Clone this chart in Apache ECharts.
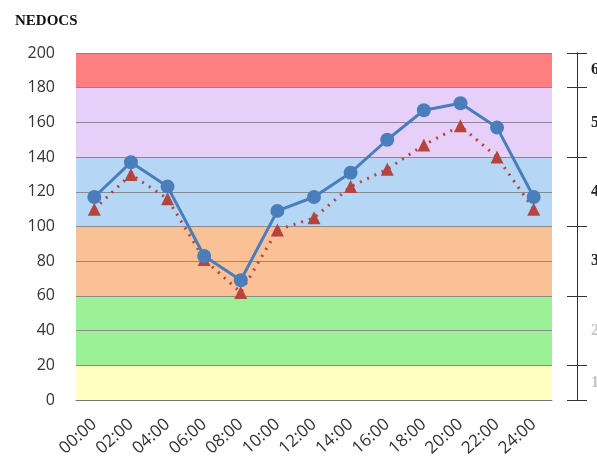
<!DOCTYPE html>
<html>
<head>
<meta charset="utf-8">
<script src="https://cdn.jsdelivr.net/npm/echarts@6/dist/echarts.min.js"></script>
<style>
  html, body { margin: 0; padding: 0; background: #fff; }
  #chart { width: 597px; height: 458px; }
</style>
</head>
<body>
<div id="chart"></div>
<script>
// Hours of the day
const hours = ['00:00','02:00','04:00','06:00','08:00','10:00','12:00','14:00','16:00','18:00','20:00','22:00','24:00'];
// NEDOCS score, upper (circles) and lower (triangles) series
const seriesCircle = [117, 137, 123, 83, 69, 109, 117, 131, 150, 167, 171, 157, 117];
const seriesTriangle = [110, 130, 116, 81, 62, 98, 105, 123, 133, 147, 158, 140, 110];
// Crowding level bands: boundaries and levels
const bandEdges = [0, 20, 60, 100, 140, 180, 200];
const bandColors = ['#FFFFC2', '#9CF096', '#FAC196', '#B5D6F5', '#E6D0FA', '#FF7F80'];
const levelLabels = ['1', '2', '3', '4', '5', '6'];
const levelCenters = [10, 40, 80, 120, 160, 190];

const bandAreas = bandColors.map((c, i) => [
  { yAxis: bandEdges[i], itemStyle: { color: c } },
  { yAxis: bandEdges[i + 1] }
]);

const levelColor = ['#c4c4c4', '#c4c4c4', '#222', '#222', '#222', '#222'];

const chart = echarts.init(document.getElementById('chart'));
const rightAxisBase = {
  type: 'value', position: 'right', offset: 25, min: 0, max: 200,
  splitLine: { show: false },
  axisLine: { show: true, lineStyle: { color: '#333', width: 1 } },
  z: 1
};
chart.setOption({
  animation: false,
  title: {
    text: 'NEDOCS', left: 10, top: 9,
    textStyle: { fontFamily: 'Liberation Serif', fontWeight: 'bold', fontSize: 15, color: '#111' }
  },
  grid: { left: 76, right: 45, top: 53, bottom: 58, outerBoundsMode: 'none', containLabel: false },
  xAxis: {
    type: 'category', data: hours, boundaryGap: true,
    axisLine: { show: true, lineStyle: { color: '#777', width: 1 } },
    axisTick: { show: false },
    axisLabel: { rotate: 42, margin: 22, color: '#333', fontSize: 17, fontFamily: 'Open Sans' },
    z: 1.5
  },
  yAxis: [
    {
      type: 'value', min: 0, max: 200, interval: 20,
      axisLine: { show: false }, axisTick: { show: false },
      axisLabel: { color: '#333', fontSize: 16, margin: 21, fontFamily: 'Open Sans' },
      splitLine: { show: true, lineStyle: { color: '#8a8a8a', width: 1 } },
      z: 1.5
    },
    Object.assign({}, rightAxisBase, {
      axisTick: { show: true, inside: false, length: 10, customValues: bandEdges, lineStyle: { color: '#333' } },
      axisLabel: {
        show: true, margin: 14, customValues: levelCenters,
        formatter: v => levelLabels[levelCenters.indexOf(v)],
        color: v => levelColor[levelCenters.indexOf(Number(v))],
        fontFamily: 'Liberation Serif', fontWeight: 'bold', fontSize: 16
      }
    }),
    Object.assign({}, rightAxisBase, {
      axisTick: { show: true, inside: true, length: 10, customValues: bandEdges, lineStyle: { color: '#333' } },
      axisLabel: { show: false }
    })
  ],
  series: [
    {
      type: 'line', data: [], z: 1, silent: true,
      markArea: { silent: true, data: bandAreas }
    },
    {
      name: 'upper', type: 'line', data: seriesCircle, z: 3,
      symbol: 'circle', symbolSize: 14,
      lineStyle: { color: '#4A7EBB', width: 3 },
      itemStyle: { color: '#4A7EBB' }
    },
    {
      name: 'lower', type: 'line', data: seriesTriangle, z: 2,
      symbol: 'triangle', symbolSize: 13,
      lineStyle: { color: '#B5443F', width: 3, type: [2, 6] },
      itemStyle: { color: '#B5443F' }
    }
  ]
});
</script>
</body>
</html>
